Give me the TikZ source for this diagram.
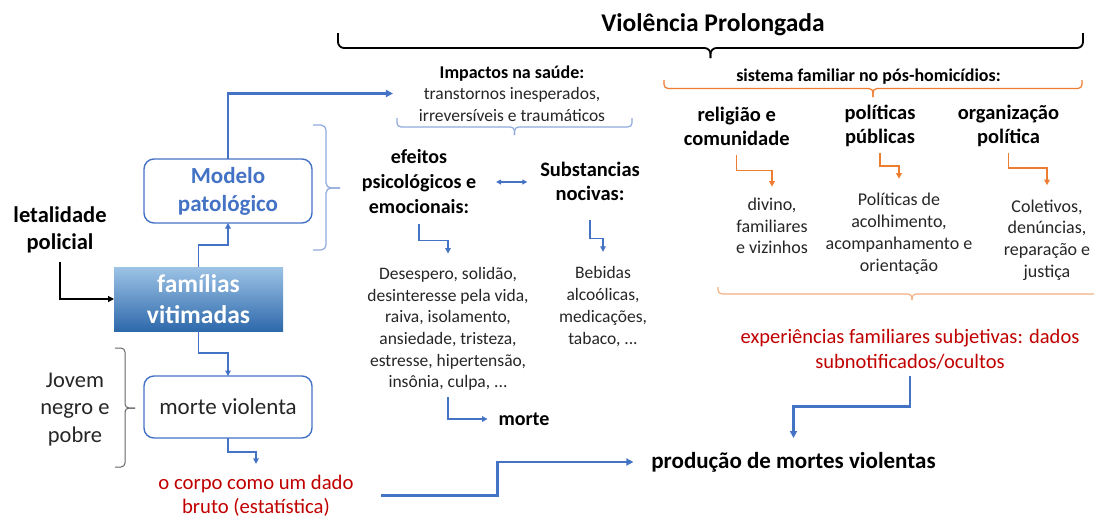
\documentclass[tikz,border=0pt]{standalone}
\usepackage{fontspec}
\setmainfont{Carlito}
\usetikzlibrary{arrows.meta,calc}
\definecolor{myblue}{HTML}{4472C4}
\definecolor{lblue}{HTML}{8FAADC}
\definecolor{orng}{HTML}{ED7D31}
\definecolor{peach}{HTML}{F4B183}
\definecolor{dred}{HTML}{C00000}
\definecolor{txt}{HTML}{262626}
\definecolor{gtop}{HTML}{9DC3E6}
\definecolor{gbot}{HTML}{2E69AB}
\newcommand{\fsz}[2]{\fontsize{#1}{#2}\selectfont}
\begin{document}
\begin{tikzpicture}[x=1pt,y=-1pt,
  lbl/.style={inner sep=0pt, outer sep=0pt, align=center, text=txt},
  bld/.style={inner sep=0pt, outer sep=0pt, align=center, text=black},
  redtxt/.style={inner sep=0pt, outer sep=0pt, align=center, text=dred},
  thinarr/.style={draw=myblue, line width=1.3pt, -{Triangle[length=5.5pt,width=5.5pt]}},
  dblarr/.style={draw=myblue, line width=1.3pt, {Triangle[length=5pt,width=5pt]}-{Triangle[length=5pt,width=5pt]}},
  thickarr/.style={draw=myblue, line width=2.6pt, -{Triangle[length=7pt,width=7pt]}},
  blkarr/.style={draw=black, line width=1.3pt, -{Triangle[length=6pt,width=6pt]}},
  orarr/.style={draw=orng, line width=1.3pt, -{Triangle[length=5.5pt,width=5.5pt]}},
  rbox/.style={draw=myblue, line width=1.4pt, rounded corners=10pt, minimum width=168pt, inner sep=0pt, outer sep=0pt, align=center}
]
\fill[white] (0,0) rectangle (1094,517);
\useasboundingbox (0,0) rectangle (1094,517);

% ---------- braces ----------
\draw[black, line width=1.8pt, rounded corners=6pt] (338,33) -- (338,48) -- (710.5,48) -- (710.5,58);
\draw[black, line width=1.8pt, rounded corners=6pt] (1083,33) -- (1083,48) -- (710.5,48) -- (710.5,58);
\draw[lblue, line width=1.2pt, rounded corners=4pt] (397,118) -- (397,127) -- (514.5,127) -- (514.5,135);
\draw[lblue, line width=1.2pt, rounded corners=4pt] (632,118) -- (632,127) -- (514.5,127) -- (514.5,135);
\draw[orng, line width=1.2pt, rounded corners=4pt] (664,80) -- (664,88.5) -- (873,88.5) -- (873,97);
\draw[orng, line width=1.2pt, rounded corners=4pt] (1082,80) -- (1082,88.5) -- (873,88.5) -- (873,97);
\draw[peach, line width=1.2pt, rounded corners=4pt] (718,287) -- (718,294) -- (912,294) -- (912,300);
\draw[peach, line width=1.2pt, rounded corners=4pt] (1106,287) -- (1106,294) -- (912,294) -- (912,300);
\draw[lblue, line width=1.2pt, rounded corners=5pt] (313,125) -- (326,125) -- (326,188) -- (340,188);
\draw[lblue, line width=1.2pt, rounded corners=5pt] (313,250) -- (326,250) -- (326,188) -- (340,188);
\draw[gray!80!black, line width=1pt, rounded corners=4pt] (115,348) -- (125,348) -- (125,408) -- (135,408);
\draw[gray!80!black, line width=1pt, rounded corners=4pt] (115,467) -- (125,467) -- (125,408) -- (135,408);

% ---------- texts ----------
\node[bld, font=\fsz{25.5}{30}\bfseries] (title) at (713,25) {Violência Prolongada};
\node[lbl, font=\fsz{17.5}{21.5}] (imp) at (512,93.5) {{\fontsize{18}{21.5}\selectfont\bfseries\color{black}Impactos na saúde:}\\transtornos inesperados,\\irreversíveis e traumáticos};
\node[bld, font=\fsz{18}{21.5}\bfseries] (sis) at (868.5,77) {sistema familiar no pós-homicídios:};
\node[bld, font=\fsz{20.5}{24}\bfseries] (rel) at (736.7,126) {religião e\\comunidade};
\node[bld, font=\fsz{20.5}{24}\bfseries] (pol) at (880,126) {políticas\\públicas};
\node[bld, font=\fsz{20.5}{24}\bfseries] (org) at (1008.5,126) {organização\\política};
\node[lbl, font=\fsz{18}{21.5}] (div) at (772,226) {divino,\\familiares\\e vizinhos};
\node[lbl, font=\fsz{18}{22}] (pp) at (899,234) {Políticas de\\acolhimento,\\acompanhamento e\\orientação};
\node[lbl, font=\fsz{18}{21.7}] (col) at (1047,240) {Coletivos,\\denúncias,\\reparação e\\justiça};
\node[redtxt, font=\fsz{20.5}{24.5}] (exp) at (910,349.5) {experiências familiares subjetivas: dados\\subnotificados/ocultos};
\node[bld, font=\fsz{20}{25}\bfseries] (ef) at (419,182) {efeitos\\psicológicos e\\emocionais:};
\node[bld, font=\fsz{20.5}{24}\bfseries] (sub) at (590,181) {Substancias\\nocivas:};
\node[lbl, font=\fsz{17.5}{21.6}] (des) at (448,329) {Desespero, solidão,\\desinteresse pela vida,\\raiva, isolamento,\\ansiedade, tristeza,\\estresse, hipertensão,\\insônia, culpa, ...};
\node[lbl, font=\fsz{17.5}{22}] (beb) at (603,307) {Bebidas\\alcoólicas,\\medicações,\\tabaco, ...};
\node[bld, font=\fsz{20}{24}\bfseries] (mrt) at (524,419) {morte};
\node[rbox, minimum height=64pt, text=myblue, font=\fsz{23}{28}\bfseries] (mod) at (228,191) {Modelo\\patológico};
\node[top color=gtop, bottom color=gbot, minimum width=169pt, minimum height=64pt, inner sep=0pt, outer sep=0pt, align=center, text=white, font=\fsz{25.5}{31}\bfseries] (fam) at (198.5,299) {famílias\\vitimadas};
\node[bld, font=\fsz{22.5}{27}\bfseries] (let) at (60,229.5) {letalidade\\policial};
\node[rbox, minimum height=62pt, text=txt, font=\fsz{23}{27}] (mv) at (228,407) {morte violenta};
\node[lbl, font=\fsz{22.5}{27.5}] (jov) at (75,409.5) {Jovem\\negro e\\pobre};
\node[redtxt, font=\fsz{20.7}{24}] (cor) at (256,495.5) {o corpo como um dado\\bruto (estatística)};
\node[bld, font=\fsz{23}{27}\bfseries] (prod) at (793.5,462) {produção de mortes violentas};

% ---------- connectors ----------
\draw[thinarr] (fam.north) -- ++(0,-22) -| (mod.south);
\draw[thickarr, shorten >=26pt] (mod.north) |- (imp.west);
\draw[thinarr] (fam.south) -- ++(0,22) -| (mv.north);
\draw[thinarr, shorten >=11pt] (mv.south) -- ++(0,14) -| (cor.north);
\draw[blkarr, shorten <=9pt] (let.south) |- (fam.west);
\draw[thinarr, shorten <=10pt, shorten >=14pt] (ef.south) -- ++(0,26.4) -| (des.north);
\draw[thinarr, shorten <=20pt, shorten >=15pt] (sub.south) -- ++(0,38.3) -| (beb.north);
\draw[thinarr, shorten <=7pt, shorten >=11pt] (des.south) |- (mrt.west);
\draw[dblarr, shorten <=20pt, shorten >=13pt] (ef.east) -- (ef.east -| sub.west);
\draw[orarr, shorten <=10pt, shorten >=11.5pt] (rel.south) -- ++(0,25.3) -| (div.north);
\draw[orarr, shorten <=6pt, shorten >=14.5pt] (pol.south) -- ++(0,19.2) -| (pp.north);
\draw[orarr, shorten <=6pt, shorten >=14.5pt] (org.south) -- ++(0,21.2) -| (col.north);
\draw[thickarr, shorten <=7pt, shorten >=14pt] (exp.south) -- ++(0,37) -| (prod.north);
\draw[thickarr, shorten <=27pt, shorten >=18pt] (cor.east) -- ++(144,0) |- (prod.west);
\end{tikzpicture}
\end{document}
